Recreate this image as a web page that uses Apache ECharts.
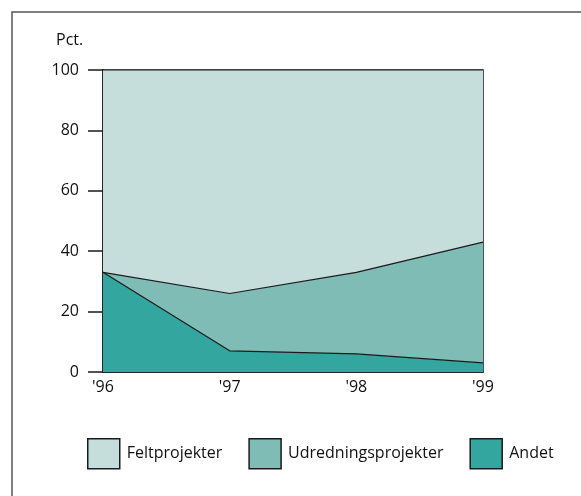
<!DOCTYPE html>
<html><head><meta charset="utf-8">
<script src="https://cdn.jsdelivr.net/npm/echarts@6/dist/echarts.min.js"></script>
<style>html,body{margin:0;padding:0;background:#fff}#c{width:581px;height:496px}</style>
</head><body><div id="c"></div>
<script>
const years = ["'96", "'97", "'98", "'99"];
const andet = [33, 7, 6, 3];
const udredning = [0, 19, 27, 40];
const felt = [67, 74, 67, 57];
const yTicks = [0, 20, 40, 60, 80, 100];

const FONT = 'Open Sans';
const chart = echarts.init(document.getElementById('c'), null, {renderer: 'canvas'});
function mk(name, data, color) {
  return {
    name: name, type: 'line', stack: 'tot', data: data, symbol: 'none', smooth: false,
    lineStyle: {color: '#1a1a1a', width: 1.2},
    areaStyle: {color: color, opacity: 1},
    itemStyle: {color: color, borderColor: '#1a1a1a', borderWidth: 1.5},
    emphasis: {disabled: true}
  };
}
chart.setOption({
  animation: false,
  backgroundColor: '#fff',
  graphic: [{type: 'rect', shape: {x: 12, y: 12, width: 600, height: 520}, style: {fill: 'none', stroke: '#555', lineWidth: 1.5}}],
  title: {text: 'Pct.', left: 56, top: 32, padding: 0, textStyle: {fontFamily: FONT, fontSize: 16, fontWeight: 'normal', color: '#111'}},
  grid: {left: 103, right: 98, top: 70, bottom: 124, show: true, borderColor: '#1a1a1a', borderWidth: 1.5, backgroundColor: 'transparent'},
  legend: {
    data: ['Feltprojekter', 'Udredningsprojekter', 'Andet'],
    left: 87, top: 438, padding: 0, itemWidth: 32, itemHeight: 30, itemGap: 26, icon: 'rect',
    itemStyle: {borderColor: '#1a1a1a', borderWidth: 1.5},
    textStyle: {fontFamily: FONT, fontSize: 16, color: '#111', padding: [0, 0, 0, 2]}
  },
  xAxis: {
    type: 'category', data: years, boundaryGap: false,
    axisLine: {show: true, lineStyle: {color: '#1a1a1a', width: 1.5}},
    axisTick: {show: false},
    axisLabel: {fontFamily: FONT, fontSize: 16, color: '#111', margin: 7},
    splitLine: {show: false}
  },
  yAxis: {
    type: 'value', min: 0, max: 100, interval: 20,
    axisLine: {show: true, lineStyle: {color: '#1a1a1a', width: 1.5}},
    axisTick: {show: true, length: 15, lineStyle: {color: '#1a1a1a', width: 1.5}},
    axisLabel: {fontFamily: FONT, fontSize: 16, color: '#111', margin: 24,
      formatter: v => yTicks.includes(v) ? String(v) : ''},
    splitLine: {show: false}
  },
  series: [
    mk('Andet', andet, '#33a69f'),
    mk('Udredningsprojekter', udredning, '#7fbcb5'),
    mk('Feltprojekter', felt, '#c5dedb')
  ]
});
</script></body></html>
